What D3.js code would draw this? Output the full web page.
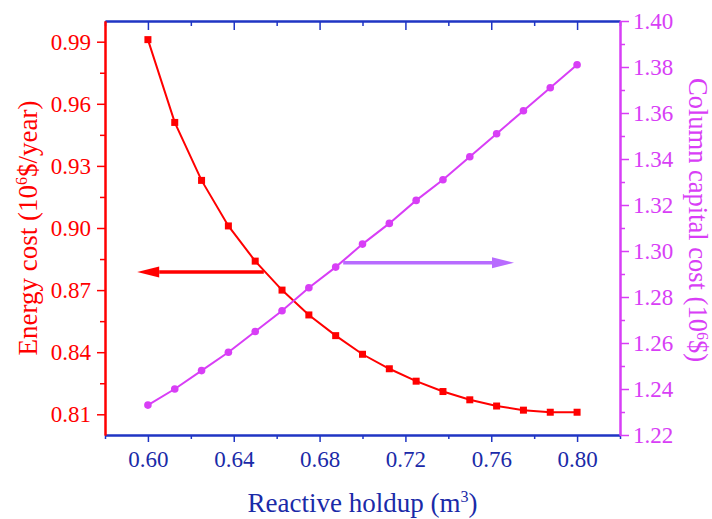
<!DOCTYPE html>
<html>
<head>
<meta charset="utf-8">
<script src="https://cdn.jsdelivr.net/npm/d3@7"></script>
<style>
  body { margin: 0; background: #fff; }
  svg { display: block; }
</style>
</head>
<body>
<div id="chart"></div>
<script>
// data
const holdup = [0.6, 0.6125, 0.625, 0.6375, 0.65, 0.6625, 0.675, 0.6875, 0.7,
    0.7125, 0.725, 0.7375, 0.75, 0.7625, 0.775, 0.7875, 0.8];
const energyCost = [0.991, 0.951, 0.923, 0.901, 0.884, 0.870, 0.858, 0.848, 0.839,
    0.832, 0.826, 0.821, 0.817, 0.814, 0.812, 0.811, 0.811];
const capitalCost = [1.233, 1.240, 1.248, 1.256, 1.265, 1.274, 1.284, 1.293, 1.303,
    1.312, 1.322, 1.331, 1.341, 1.351, 1.361, 1.371, 1.381];

const xTicks = [0.6, 0.64, 0.68, 0.72, 0.76, 0.8];
const xMinor = [0.58, 0.62, 0.66, 0.7, 0.74, 0.78, 0.82];
const leftTicks = [0.81, 0.84, 0.87, 0.9, 0.93, 0.96, 0.99];
const leftMinor = [0.825, 0.855, 0.885, 0.915, 0.945, 0.975];
const rightTicks = [1.22, 1.24, 1.26, 1.28, 1.3, 1.32, 1.34, 1.36, 1.38, 1.4];
const rightMinor = [1.23, 1.25, 1.27, 1.29, 1.31, 1.33, 1.35, 1.37, 1.39];

// annotation arrows: [x, y] start and tip
const arrowEnergy = [[0.654, 0.8787], [0.595, 0.8787]];
const arrowCapital = [[0.691, 1.2949], [0.7706, 1.2949]];

const width = 712;
const height = 519;
const marginTop = 21;
const marginRight = 92;
const marginBottom = 84;
const marginLeft = 105;

const red = '#ff0000';
const purple = '#d83ef6';
const arrowPurple = '#b86bff';
const blue = '#1f35c4';
const blueText = '#1a2aa8';
const font = '"Liberation Serif", "Times New Roman", serif';

const svg = d3.select('#chart')
    .append('svg')
    .attr('width', width)
    .attr('height', height)
    .attr('viewBox', [0, 0, width, height])
    .style('font-family', font);

const x = d3.scaleLinear([0.58, 0.82], [marginLeft, width - marginRight]);
const yLeft = d3.scaleLinear([0.8, 1.0], [height - marginBottom, marginTop]);
const yRight = d3.scaleLinear([1.22, 1.4], [height - marginBottom, marginTop]);

const fmt = d3.format('.2f');

function styleAxis(g, color, textColor) {
    g.attr('font-family', null).attr('font-size', null);
    g.select('.domain').attr('stroke', color).attr('stroke-width', 2);
    g.selectAll('.tick line').attr('stroke', color).attr('stroke-width', 1.5);
    g.selectAll('.tick text')
        .attr('fill', textColor)
        .style('font-family', font)
        .style('font-size', '23px');
}

// BOTTOM AXIS
svg.append('g')
    .attr('transform', `translate(0,${height - marginBottom})`)
    .call(d3.axisBottom(x).tickValues(xMinor).tickSize(4).tickFormat('').tickSizeOuter(0))
    .call((g) => styleAxis(g, blue, blueText));

svg.append('g')
    .attr('transform', `translate(0,${height - marginBottom})`)
    .call(d3.axisBottom(x).tickValues(xTicks).tickFormat(fmt).tickSize(7).tickPadding(9).tickSizeOuter(0))
    .call((g) => styleAxis(g, blue, blueText));

// TOP AXIS (ticks inward)
svg.append('g')
    .attr('transform', `translate(0,${marginTop})`)
    .call(d3.axisBottom(x).tickValues(xMinor).tickSize(5).tickFormat('').tickSizeOuter(0))
    .call((g) => styleAxis(g, blue, blueText));

svg.append('g')
    .attr('transform', `translate(0,${marginTop})`)
    .call(d3.axisBottom(x).tickValues(xTicks).tickSize(9).tickFormat('').tickSizeOuter(0))
    .call((g) => styleAxis(g, blue, blueText));

// LEFT AXIS
svg.append('g')
    .attr('transform', `translate(${marginLeft},0)`)
    .call(d3.axisLeft(yLeft).tickValues(leftMinor).tickSize(5).tickFormat('').tickSizeOuter(0))
    .call((g) => styleAxis(g, red, red));

svg.append('g')
    .attr('transform', `translate(${marginLeft},0)`)
    .call(d3.axisLeft(yLeft).tickValues(leftTicks).tickFormat(fmt).tickSize(8).tickPadding(6).tickSizeOuter(0))
    .call((g) => styleAxis(g, red, red));

// RIGHT AXIS
svg.append('g')
    .attr('transform', `translate(${width - marginRight},0)`)
    .call(d3.axisRight(yRight).tickValues(rightMinor).tickSize(5).tickFormat('').tickSizeOuter(0))
    .call((g) => styleAxis(g, purple, purple));

svg.append('g')
    .attr('transform', `translate(${width - marginRight},0)`)
    .call(d3.axisRight(yRight).tickValues(rightTicks).tickFormat(fmt).tickSize(9).tickPadding(4).tickSizeOuter(0))
    .call((g) => styleAxis(g, purple, purple));

// AXIS TITLES
function title(t, main, sup, tail, lift) {
    t.append('tspan').text(main);
    t.append('tspan').attr('dy', -lift).style('font-size', '16px').text(sup);
    t.append('tspan').attr('dy', lift).text(tail);
}

svg.append('text')
    .attr('x', (marginLeft + width - marginRight) / 2)
    .attr('y', 512)
    .attr('text-anchor', 'middle')
    .attr('fill', blueText)
    .style('font-size', '27px')
    .call((t) => title(t, 'Reactive holdup (m', '3', ')', 10));

svg.append('text')
    .attr('transform', `translate(37,${(marginTop + height - marginBottom) / 2}) rotate(-90)`)
    .attr('text-anchor', 'middle')
    .attr('fill', red)
    .style('font-size', '27px')
    .call((t) => title(t, 'Energy cost (10', '6', '$/year)', 10));

svg.append('text')
    .attr('transform', `translate(689,220) rotate(90)`)
    .attr('text-anchor', 'middle')
    .attr('fill', purple)
    .style('font-size', '26.5px')
    .call((t) => title(t, 'Column capital cost (10', '6', '$)', 8));

// ENERGY COST SERIES
svg.append('path')
    .datum(holdup)
    .attr('fill', 'none')
    .attr('stroke', red)
    .attr('stroke-width', 2)
    .attr('d', d3.line((d, i) => x(d), (d, i) => yLeft(energyCost[i])));

svg.append('g')
    .attr('fill', red)
    .selectAll('rect')
    .data(holdup)
    .join('rect')
    .attr('x', (d) => x(d) - 3.5)
    .attr('y', (d, i) => yLeft(energyCost[i]) - 3.5)
    .attr('width', 7)
    .attr('height', 7);

// CAPITAL COST SERIES
svg.append('path')
    .datum(holdup)
    .attr('fill', 'none')
    .attr('stroke', purple)
    .attr('stroke-width', 2)
    .attr('d', d3.line((d, i) => x(d), (d, i) => yRight(capitalCost[i])));

svg.append('g')
    .attr('fill', purple)
    .selectAll('circle')
    .data(holdup)
    .join('circle')
    .attr('cx', (d) => x(d))
    .attr('cy', (d, i) => yRight(capitalCost[i]))
    .attr('r', 3.8);

// ARROWS
function drawArrow(x0, x1, y, color) {
    const dir = Math.sign(x1 - x0);
    const headLen = 22;
    const headHalf = 5.5;
    svg.append('line')
        .attr('x1', x0)
        .attr('x2', x1 - dir * headLen)
        .attr('y1', y)
        .attr('y2', y)
        .attr('stroke', color)
        .attr('stroke-width', 3.5);
    svg.append('path')
        .attr('fill', color)
        .attr('d', `M${x1},${y}L${x1 - dir * headLen},${y - headHalf}L${x1 - dir * headLen},${y + headHalf}Z`);
}

drawArrow(x(arrowEnergy[0][0]), x(arrowEnergy[1][0]), yLeft(arrowEnergy[0][1]), red);
drawArrow(x(arrowCapital[0][0]), x(arrowCapital[1][0]), yRight(arrowCapital[0][1]), arrowPurple);
</script>
</body>
</html>
